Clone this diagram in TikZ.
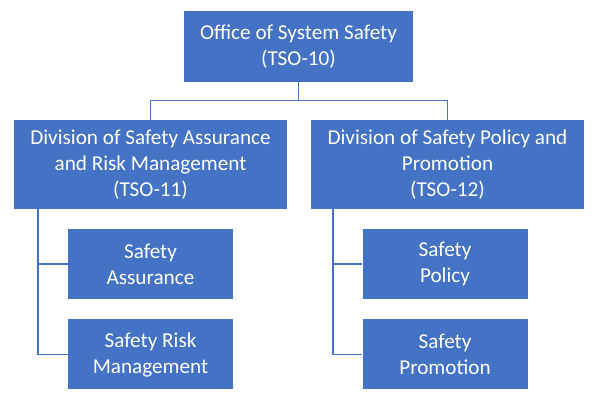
\documentclass[tikz,border=0pt]{standalone}
\usepackage{fontspec}
\setmainfont{Carlito}
\usepackage{tikz}
\usetikzlibrary{positioning,calc}
\definecolor{orgblue}{HTML}{4472C4}

\begin{document}
\begin{tikzpicture}[x=1pt,y=-1pt,every node/.style={font=\fontsize{21.2}{26}\selectfont,align=center,text=white},unit/.style={fill=orgblue,inner sep=0pt},link/.style={draw=orgblue,line width=1.6pt}]
\useasboundingbox (0,0) rectangle (600,403);
\node[unit,minimum width=229pt,minimum height=71pt] (office) at (298.5,46.5) {Office of System Safety\\(TSO-10)};
\node[unit,minimum width=273pt,minimum height=89pt] (assure) at (150.5,164.5) {Division of Safety Assurance\\and Risk Management\\(TSO-11)};
\node[unit,minimum width=273pt,minimum height=89pt] (policy) at (447.5,164.5) {Division of Safety Policy and\\Promotion\\(TSO-12)};
\node[unit,minimum width=165pt,minimum height=70pt] (sa) at (150.5,264) {Safety\\Assurance};
\node[unit,minimum width=165pt,minimum height=70pt] (srm) at (150.5,354.5) {Safety Risk\\Management};
\node[unit,minimum width=165pt,minimum height=70pt] (sp) at (445,264) {Safety\\Policy};
\node[unit,minimum width=165pt,minimum height=70pt] (spr) at (445,354.5) {Safety\\Promotion};
\draw[link] (office.south) -- ++(0,18.5) coordinate (bus);
\draw[link] (bus) -| (assure.north);
\draw[link] (bus) -| (policy.north);
\draw[link] ([xshift=24pt]assure.south west) |- (sa.west);
\draw[link] ([xshift=24pt]assure.south west) |- (srm.west);
\draw[link] ([xshift=22pt]policy.south west) |- (sp.west);
\draw[link] ([xshift=22pt]policy.south west) |- (spr.west);
\end{tikzpicture}
\end{document}
